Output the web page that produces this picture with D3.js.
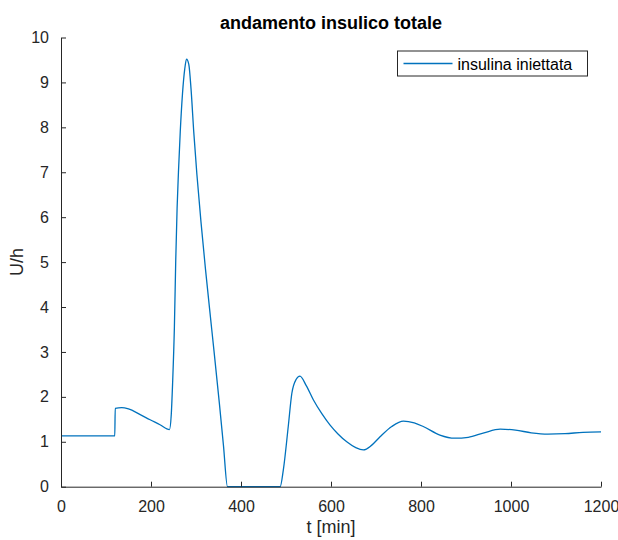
<!DOCTYPE html>
<html>
<head>
<meta charset="utf-8">
<script src="https://cdn.jsdelivr.net/npm/d3@7"></script>
<style>
  body { margin: 0; background: #fff; }
  svg { display: block; font-family: "Liberation Sans", Arial, Helvetica, sans-serif; }
  .axis path, .axis line { stroke: #262626; }
  .axis text { fill: #262626; font-size: 16px; }
</style>
</head>
<body>
<div id="chart"></div>
<script>
// tempo (min) e insulina (U/h)
var tMin = [0, 60, 119.5, 120.5, 135, 150, 175, 198, 220, 241,
            245, 248, 252, 255, 258, 261, 265, 270, 275, 279, 284, 289, 295, 302, 311, 321, 335, 352, 361, 370,
            430, 487, 494, 505, 513, 522, 531, 545, 561, 580, 598, 615, 635, 655, 672, 690, 709, 735, 761, 785, 805, 842, 875,
            905, 940, 976, 1010, 1045, 1082, 1120, 1160, 1200];
var insulina = [1.13, 1.13, 1.13, 1.745, 1.76, 1.73, 1.61, 1.49, 1.38, 1.27,
            1.6, 2.3, 3.56, 5.05, 6.2, 7.0, 7.9, 8.75, 9.3, 9.52, 9.4, 8.85, 7.9, 6.95, 5.9, 4.85, 3.5, 1.85, 0.92, 0,
            0, 0, 0.37, 1.34, 2.08, 2.38, 2.46, 2.25, 1.93, 1.62, 1.37, 1.18, 1.0, 0.87, 0.82, 0.92, 1.11, 1.34, 1.46, 1.42, 1.34, 1.15, 1.08,
            1.1, 1.2, 1.28, 1.26, 1.2, 1.17, 1.18, 1.21, 1.22];
var xTicks = [0, 200, 400, 600, 800, 1000, 1200];
var yTicks = [0, 1, 2, 3, 4, 5, 6, 7, 8, 9, 10];
var titolo = 'andamento insulico totale';
var etichettaX = 't [min]';
var etichettaY = 'U/h';
var legenda = 'insulina iniettata';

var W = 618, H = 540;
var margin = { top: 37.5, right: 17, bottom: 53.3, left: 61 };
var iw = W - margin.left - margin.right;
var ih = H - margin.top - margin.bottom;
var blu = '#0072BD';

var svg = d3.select('#chart').append('svg')
    .attr('width', W)
    .attr('height', H);

var g = svg.append('g')
    .attr('transform', 'translate(' + margin.left + ',' + margin.top + ')');

var x = d3.scaleLinear().domain([0, 1200]).range([0, iw]);
var y = d3.scaleLinear().domain([0, 10]).range([ih, 0]);

var dati = tMin.map(function(t, i) { return { t: t, v: insulina[i] }; });

// curva
var linea = d3.line()
    .x(function(d) { return x(d.t); })
    .y(function(d) { return y(d.v); })
    .curve(d3.curveMonotoneX);

g.append('path')
    .datum(dati)
    .attr('d', linea)
    .attr('fill', 'none')
    .attr('stroke', blu)
    .attr('stroke-width', 1.3);

// assi con tacche verso l'interno (stile matlab, box off)
var asseX = g.append('g')
    .attr('class', 'axis')
    .attr('transform', 'translate(0,' + ih + ')')
    .call(d3.axisBottom(x).tickValues(xTicks).tickFormat(d3.format('d'))
        .tickSize(-5).tickSizeOuter(0).tickPadding(14));
asseX.selectAll('text').attr('dy', '0.71em');

var asseY = g.append('g')
    .attr('class', 'axis')
    .call(d3.axisLeft(y).tickValues(yTicks).tickFormat(d3.format('d'))
        .tickSize(-5).tickSizeOuter(0).tickPadding(12));

// titolo e etichette
svg.append('text')
    .attr('x', margin.left + iw / 2)
    .attr('y', 29)
    .attr('text-anchor', 'middle')
    .style('font-size', '18px')
    .style('font-weight', 'bold')
    .attr('fill', '#000')
    .text(titolo);

svg.append('text')
    .attr('x', margin.left + iw / 2)
    .attr('y', 533)
    .attr('text-anchor', 'middle')
    .style('font-size', '18px')
    .attr('fill', '#262626')
    .text(etichettaX);

svg.append('text')
    .attr('transform', 'translate(23,' + (margin.top + ih / 2) + ') rotate(-90)')
    .attr('text-anchor', 'middle')
    .style('font-size', '18px')
    .attr('fill', '#262626')
    .text(etichettaY);

// legenda
var leg = svg.append('g').attr('transform', 'translate(397.5,51)');
leg.append('rect')
    .attr('width', 190)
    .attr('height', 25)
    .attr('fill', '#fff')
    .attr('stroke', '#262626')
    .attr('stroke-width', 1);
leg.append('line')
    .attr('x1', 6).attr('x2', 55)
    .attr('y1', 12.5).attr('y2', 12.5)
    .attr('stroke', blu)
    .attr('stroke-width', 1.3);
leg.append('text')
    .attr('x', 60)
    .attr('y', 18.5)
    .style('font-size', '16px')
    .attr('fill', '#000')
    .text(legenda);
</script>
</body>
</html>
